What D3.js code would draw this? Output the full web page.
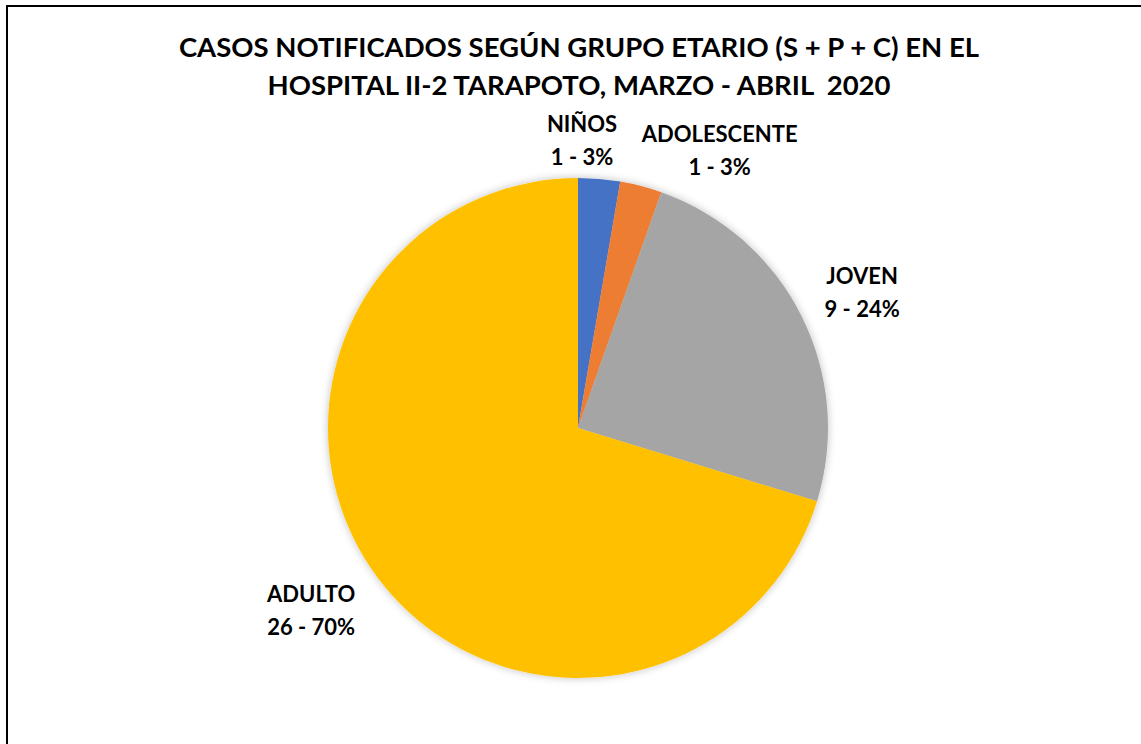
<!DOCTYPE html>
<html>
<head>
<meta charset="utf-8">
<script src="https://cdn.jsdelivr.net/npm/d3@7"></script>
<style>
  body { margin: 0; background: #fff; }
  text { font-family: Lato, "Open Sans", sans-serif; font-weight: bold; fill: #000; white-space: pre; }
</style>
</head>
<body>
<svg width="1141" height="744"></svg>
<script>
// data
var categories = ["NIÑOS", "ADOLESCENTE", "JOVEN", "ADULTO"];
var cases = [1, 1, 9, 26];
var percents = ["3%", "3%", "24%", "70%"];
var colors = ["#4472C4", "#ED7D31", "#A5A5A5", "#FFC000"];
var titleLines = ["CASOS NOTIFICADOS SEGÚN GRUPO ETARIO (S + P + C) EN EL",
                  "HOSPITAL II-2 TARAPOTO, MARZO - ABRIL  2020"];

var svg = d3.select("svg");
var width = +svg.attr("width");
var height = +svg.attr("height");

// frame (only top + left edges show in the crop)
svg.append("path")
   .attr("d", "M7," + (height + 5) + " V6 H" + (width + 5))
   .attr("fill", "none")
   .attr("stroke", "#000")
   .attr("stroke-width", 2);

svg.selectAll(".title").data(titleLines)
   .join("text")
   .attr("class", "title")
   .attr("x", 579)
   .attr("y", function(d, i){ return 57 + i * 38; })
   .attr("text-anchor", "middle")
   .style("font-size", "27.5px")
   .text(function(d){ return d; });

var defs = svg.append("defs");
var f = defs.append("filter").attr("id", "shadow")
            .attr("x", "-10%").attr("y", "-10%").attr("width", "120%").attr("height", "120%");
f.append("feGaussianBlur").attr("in", "SourceAlpha").attr("stdDeviation", 4);
f.append("feOffset").attr("dx", 0).attr("dy", 0).attr("result", "b");
f.append("feComponentTransfer").append("feFuncA").attr("type", "linear").attr("slope", 0.25);
var m = f.append("feMerge");
m.append("feMergeNode");
m.append("feMergeNode").attr("in", "SourceGraphic");

var cx = 578, cy = 428, r = 250;
var pie = d3.pie().sort(null).value(function(d){ return d; });
var arc = d3.arc().innerRadius(0).outerRadius(r);
var arcs = pie(cases);

var g = svg.append("g").attr("transform", "translate(" + cx + "," + cy + ")");
g.append("g").attr("filter", "url(#shadow)")
 .selectAll("path").data(arcs)
 .join("path")
 .attr("d", arc)
 .attr("fill", function(d, i){ return colors[i]; });

// label spots, polar offsets from center (angle in degrees clockwise from top, distance)
var labelPolar = [[0.8, 288.5], [27, 312], [64.4, 315], [-124.3, 323]];
var lab = svg.selectAll(".lab").data(arcs)
   .join("text")
   .attr("class", "lab")
   .attr("text-anchor", "middle")
   .style("font-size", "22px")
   .attr("transform", function(d, i){
      var a = labelPolar[i][0] * Math.PI / 180, dist = labelPolar[i][1];
      return "translate(" + (cx + dist * Math.sin(a)) + "," + (cy - dist * Math.cos(a)) + ")";
   });
lab.append("tspan").attr("x", 0).attr("y", -8)
   .text(function(d, i){ return categories[i]; });
lab.append("tspan").attr("x", 0).attr("y", 25)
   .text(function(d, i){ return cases[i] + " - " + percents[i]; });
</script>
</body>
</html>
